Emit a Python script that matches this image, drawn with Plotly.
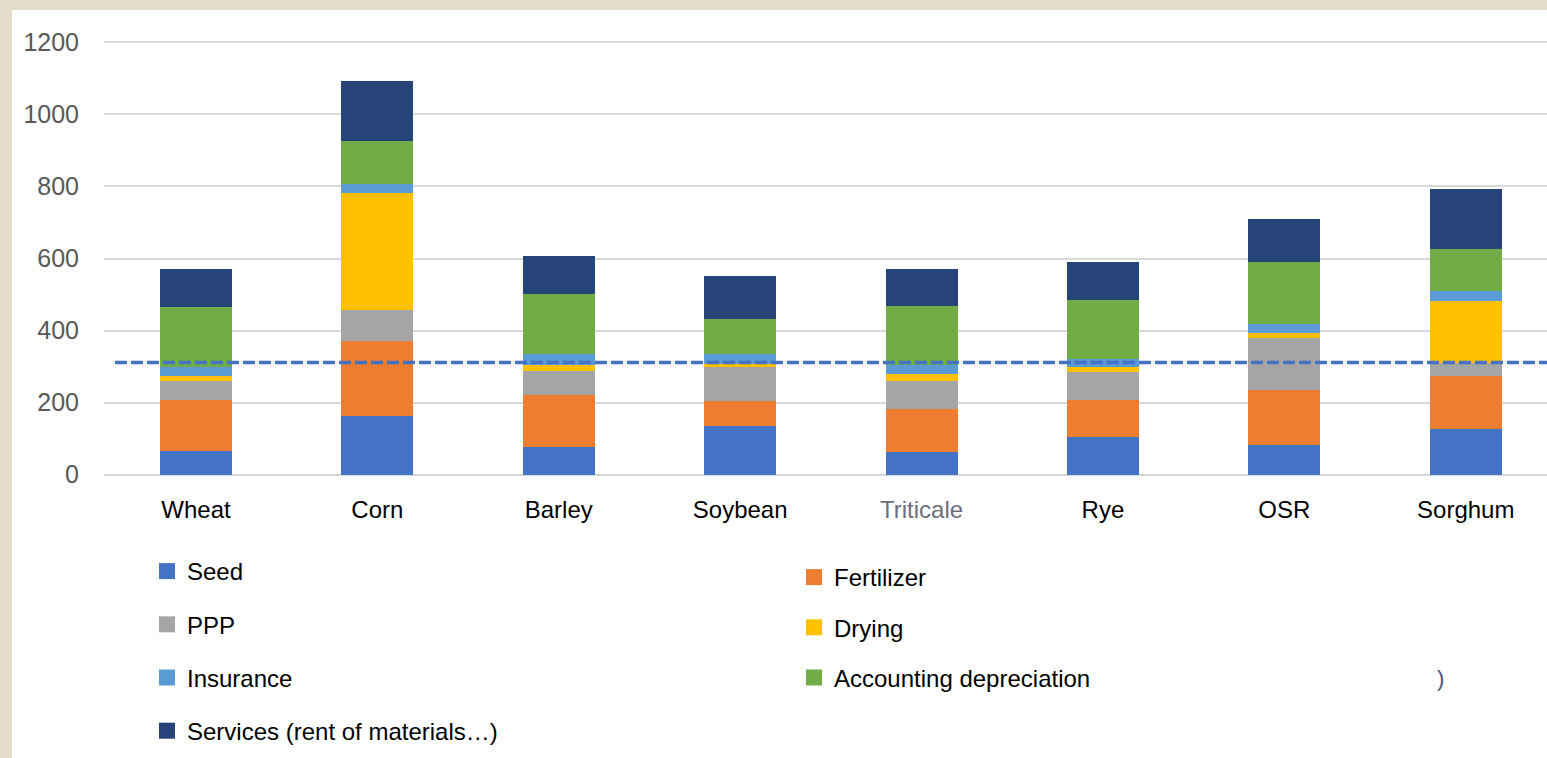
import plotly.graph_objects as go

crops = ["Wheat", "Corn", "Barley", "Soybean", "Triticale", "Rye", "OSR", "Sorghum"]
seed        = [65, 162, 77, 136, 62, 103, 82, 127]
fertilizer  = [141, 210, 145, 69, 121, 105, 154, 147]
ppp         = [53, 85, 66, 93, 78, 76, 143, 36]
drying      = [16, 324, 17, 10, 18, 14, 14, 173]
insurance   = [25, 25, 29, 26, 24, 23, 25, 26]
accounting  = [165, 120, 167, 98, 165, 164, 171, 117]
services    = [105, 167, 107, 120, 104, 105, 120, 166]
threshold = 311

series_names = ["Seed", "Fertilizer", "PPP", "Drying", "Insurance",
                "Accounting depreciation", "Services (rent of materials…)"]
series_vals = [seed, fertilizer, ppp, drying, insurance, accounting, services]
colors = ["#4472C4", "#ED7D31", "#A5A5A5", "#FFC000", "#5B9BD5", "#70AD47", "#264478"]
legend_of = ["legend", "legend2", "legend", "legend2", "legend", "legend2", "legend"]

tick_text = [c if c != "Triticale" else '<span style="color:#6E6E78">Triticale</span>' for c in crops]
y_ticks = [0, 200, 400, 600, 800, 1000, 1200]

FONT = "Liberation Sans, Arial, sans-serif"

fig = go.Figure()
for name, vals, col in zip(series_names, series_vals, colors):
    fig.add_trace(go.Bar(x=crops, y=vals, name=name, marker_color=col,
                         marker_line_width=0, width=0.397, showlegend=False))
# legend entries
for name, col, lg in zip(series_names, colors, legend_of):
    fig.add_trace(go.Scatter(x=[None], y=[None], mode="markers", name=name,
                             marker=dict(symbol="square", size=16, color=col),
                             legend=lg, legendgroup=name, showlegend=True))

W, H = 1547, 758
L, R, T, B = 104, 0, 41, 282
pw = W - L - R
ph = H - T - B

def px_x(p):
    return (p - L) / pw

def px_y(p):
    return (H - B - p) / ph

fig.update_layout(
    width=W, height=H,
    margin=dict(l=L, r=R, t=T, b=B, pad=0, autoexpand=False),
    barmode="stack",
    paper_bgcolor="#E3DCC8",
    plot_bgcolor="white",
    font=dict(family=FONT, size=24, color="black"),
    xaxis=dict(type="category", range=[-0.507, 7.448], tickvals=crops, ticktext=tick_text,
               showgrid=False, zeroline=False, showline=False, ticks="", automargin=False,
               tickfont=dict(family=FONT, size=24, color="black"),
               ticklabelstandoff=17),
    yaxis=dict(range=[-4, 1204], tickvals=y_ticks, showgrid=True, gridcolor="#D9D9D9",
               gridwidth=1.6, zeroline=False, showline=False, ticks="", automargin=False,
               tickfont=dict(family=FONT, size=25, color="#595959"),
               ticklabelstandoff=24),
    legend=dict(x=px_x(147), y=px_y(549), xanchor="left", yanchor="top",
                bgcolor="rgba(0,0,0,0)", tracegroupgap=19, traceorder="grouped",
                font=dict(family=FONT, size=24, color="black"), itemclick=False),
    legend2=dict(x=px_x(794), y=px_y(555), xanchor="left", yanchor="top",
                 bgcolor="rgba(0,0,0,0)", tracegroupgap=16, traceorder="grouped",
                 font=dict(family=FONT, size=24, color="black"), itemclick=False),
    shapes=[
        dict(type="rect", xref="paper", yref="paper", x0=px_x(12), x1=px_x(W + 5),
             y0=px_y(H + 5), y1=px_y(10), fillcolor="white", line_width=0, layer="below"),
        dict(type="line", xref="paper", yref="y", x0=px_x(115), x1=1.0,
             y0=threshold, y1=threshold,
             line=dict(color="#4472C4", width=3.5, dash="12px,4px"), layer="above"),
    ],
    annotations=[
        dict(text=")", xref="paper", yref="paper", x=px_x(1446), y=px_y(693),
             showarrow=False, font=dict(family=FONT, size=22, color="#50507A")),
    ],
)

fig.write_html("out.html", config={"displayModeBar": False},
               post_script="document.body.style.margin='0';document.body.style.overflow='hidden';")
